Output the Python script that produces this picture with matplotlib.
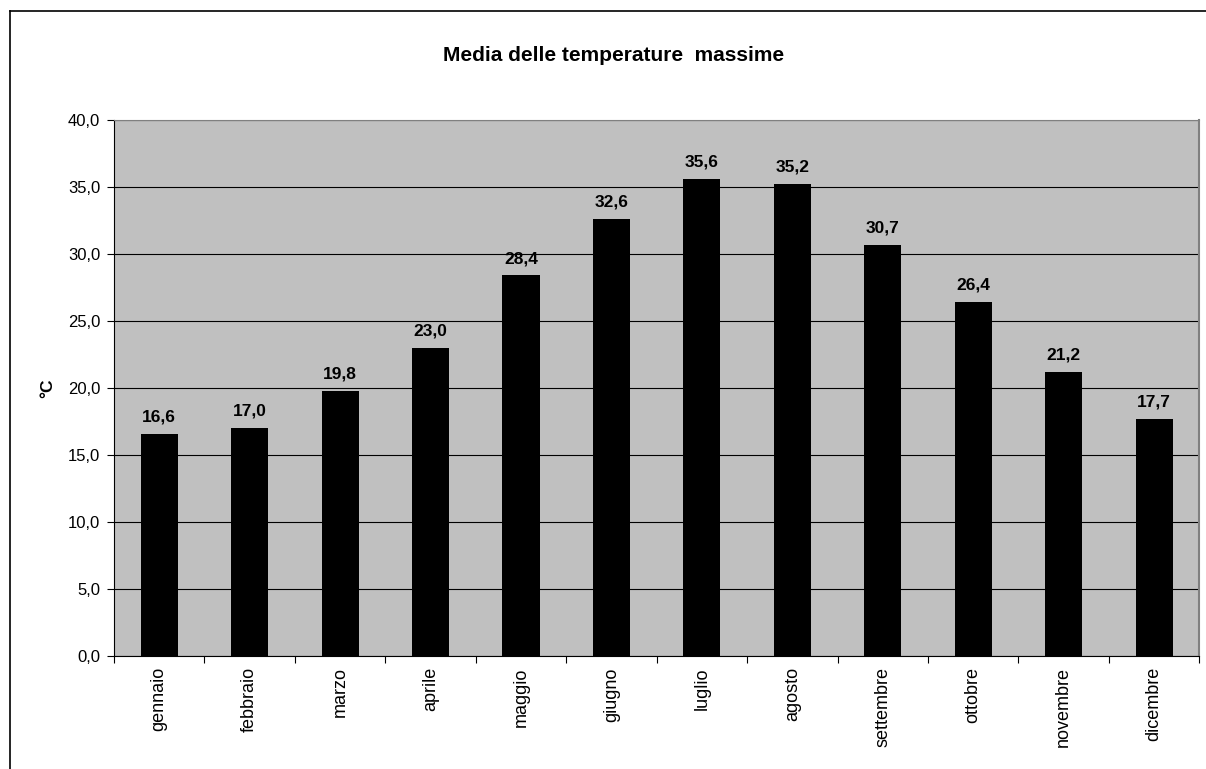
import matplotlib
matplotlib.use("Agg")
from matplotlib import pyplot as plt
from matplotlib.lines import Line2D

plt.rcParams['font.family'] = ['Liberation Sans', 'DejaVu Sans']

mesi = ['gennaio', 'febbraio', 'marzo', 'aprile', 'maggio', 'giugno',
        'luglio', 'agosto', 'settembre', 'ottobre', 'novembre', 'dicembre']
temperature = [16.6, 17.0, 19.8, 23.0, 28.4, 32.6, 35.6, 35.2, 30.7, 26.4, 21.2, 17.7]
tacche_y = [0, 5, 10, 15, 20, 25, 30, 35, 40]


def virgola(v):
    # formato italiano con una cifra decimale
    return f"{v:.1f}".replace('.', ',')


fig = plt.figure(figsize=(12.06, 7.69), dpi=100)
ax = fig.add_axes([0.0945, 0.1469, 0.9 , 0.6971])
ax.set_facecolor('#c0c0c0')

posizioni = list(range(len(mesi)))
barre = ax.bar(posizioni, temperature, width=0.41, color='black', zorder=3)

for b, v in zip(barre, temperature):
    ax.text(b.get_x() + b.get_width() / 2, v + 0.7, virgola(v),
            ha='center', va='bottom', fontsize=12.5, fontweight='bold', zorder=4)

ax.set_xlim(-0.5, len(mesi) - 0.5)
ax.set_ylim(0, 40)
ax.set_yticks(tacche_y)
ax.set_yticklabels([virgola(v) for v in tacche_y], fontsize=12)
ax.yaxis.grid(True, color='black', linewidth=0.8, zorder=1)
ax.set_axisbelow(True)

# tacche x fra le categorie, etichette al centro
ax.set_xticks([p - 0.5 for p in posizioni] + [len(mesi) - 0.5])
ax.set_xticklabels([])
ax.set_xticks(posizioni, minor=True)
ax.set_xticklabels(mesi, minor=True, rotation=90, fontsize=13)
ax.tick_params(axis='x', which='minor', length=0, pad=8)
ax.tick_params(axis='x', which='major', length=5, direction='out', color='black')
ax.tick_params(axis='y', length=5, direction='out', pad=5)

ax.spines['left'].set_color('black')
ax.spines['bottom'].set_color('black')
ax.spines['top'].set_color('#808080')
ax.spines['right'].set_color('#808080')
ax.spines['right'].set_linewidth(1.5)

ax.set_ylabel('°C', fontsize=12.5, fontweight='bold', labelpad=9)
fig.text(0.509, 0.928, 'Media delle temperature  massime', ha='center', va='center',
         fontsize=15, fontweight='bold')

# cornice del grafico (bordo sinistro e superiore)
fig.add_artist(Line2D([10 / 1206, 10 / 1206], [0, 1 - 11 / 769], color='black', linewidth=1.2))
fig.add_artist(Line2D([10 / 1206, 1], [1 - 11 / 769, 1 - 11 / 769], color='black', linewidth=1.2))

fig.savefig('out.png', dpi=100)
